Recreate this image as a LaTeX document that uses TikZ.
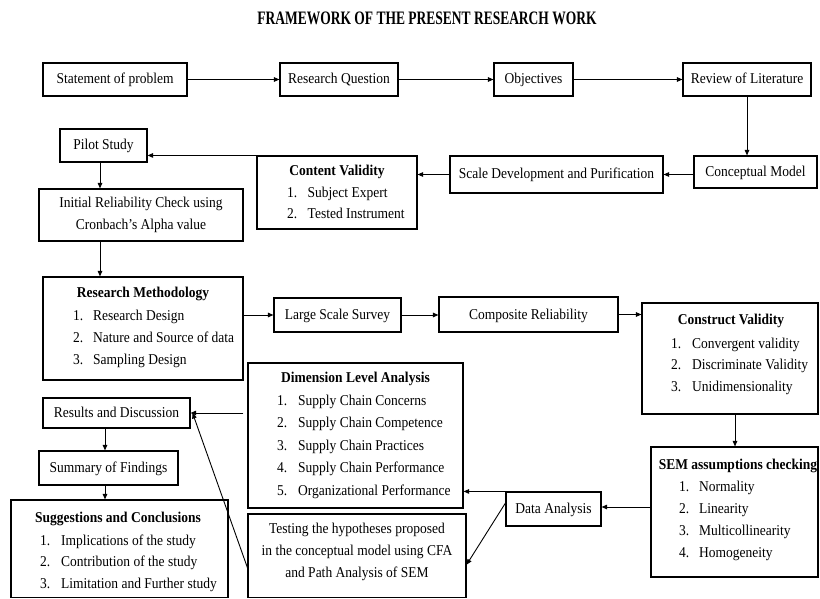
\documentclass[tikz,border=0pt]{standalone}
\usepackage{fontspec}
\setmainfont{Liberation Serif}[FakeStretch=0.9]
\newfontfamily\titlefont{Liberation Serif}[FakeStretch=0.71]
\usetikzlibrary{arrows.meta,calc}

% a framed box given by its corners (x1,y1) and (x2,y2)
\newcommand\framebx[6]{%
  \node[box, minimum width={#4-#2}, minimum height={#5-#3}] (#1)
    at ({(#2+#4)/2},{(#3+#5)/2}) {#6};}

\begin{document}
\begin{tikzpicture}[x=1pt,y=-1pt,
  box/.style={draw=black, line width=1.1pt, rectangle, inner sep=0pt,
    text height=11pt, text depth=2pt, font=\fontsize{15}{21.7}\selectfont},
  flow/.style={draw=black, line width=0.9pt,
    -{Triangle[length=5.5pt,width=4.5pt]}},
  txt/.style={inner sep=0pt, align=center, font=\fontsize{15}{21.7}\selectfont},
  head/.style={inner sep=0pt, text height=10pt, text depth=3pt,
    font=\bfseries\fontsize{15}{18}\selectfont},
  item/.style={inner sep=0pt, anchor=west, text height=10pt, text depth=3pt,
    font=\fontsize{15}{18}\selectfont},
  ttl/.style={inner sep=0pt, anchor=base, font=\titlefont\bfseries\fontsize{19}{22}\selectfont}
]
\useasboundingbox (0,0) rectangle (820,599);

\node[ttl] (title) at (427,25) {FRAMEWORK OF THE PRESENT RESEARCH WORK};

% top row
\framebx{stmt}{43}{63}{187}{96}{Statement of problem}
\framebx{rq}{280}{63}{398}{96}{Research Question}
\framebx{obj}{494}{63}{573}{96}{Objectives}
\framebx{rol}{683}{63}{811}{96}{Review of Literature}

% second row
\framebx{cm}{694}{156}{817}{188}{Conceptual Model}
\framebx{sdp}{450}{156}{663}{193}{Scale Development and Purification}
\framebx{cv}{257}{156}{417}{229}{}
\framebx{pilot}{60}{129}{147}{162}{Pilot Study}
\framebx{irc}{39}{189}{243}{241}{}
\node[txt] (irctxt) at (141,215) {Initial Reliability Check using\\Cronbach’s Alpha value};

% middle row
\framebx{rm}{43}{277}{243}{380}{}
\framebx{lss}{274}{298}{401}{332}{Large Scale Survey}
\framebx{cr}{439}{297}{618}{332}{Composite Reliability}
\framebx{conv}{642}{303}{818}{414}{}

% lower part
\framebx{sem}{651}{447}{818}{577}{}
\framebx{da}{506}{492}{601}{526}{Data Analysis}
\framebx{dla}{248}{363}{463}{508}{}
\framebx{test}{248}{514}{466}{597.5}{}
\framebx{rd}{43}{398}{190}{428}{Results and Discussion}
\framebx{sof}{39}{451}{178}{485}{Summary of Findings}
\framebx{sc}{11}{500}{228}{597.5}{}

% contents of the list boxes
\node[head] (cvh) at (337,172) {Content Validity};
\foreach \t [count=\i, evaluate=\i as \yy using 194+(\i-1)*21] in
  {Subject Expert, Tested Instrument}
  \node[item] (cv-\i) at (287,\yy) {\makebox[20.5pt][l]{\i.}\t};

\node[head] (rmh) at (143,294) {Research Methodology};
\foreach \t [count=\i, evaluate=\i as \yy using 316.5+(\i-1)*22] in
  {Research Design, Nature and Source of data, Sampling Design}
  \node[item] (rm-\i) at (73,\yy) {\makebox[20pt][l]{\i.}\t};

\node[head] (convh) at (731,321) {Construct Validity};
\foreach \t [count=\i, evaluate=\i as \yy using 344.5+(\i-1)*21.5] in
  {Convergent validity, Discriminate Validity, Unidimensionality}
  \node[item] (conv-\i) at (671,\yy) {\makebox[21pt][l]{\i.}\t};

\node[head] (semh) at (738,466) {SEM assumptions checking};
\foreach \t [count=\i, evaluate=\i as \yy using 487.5+(\i-1)*22.3] in
  {Normality, Linearity, Multicollinearity, Homogeneity}
  \node[item] (sem-\i) at (679,\yy) {\makebox[20pt][l]{\i.}\t};

\node[head] (dlah) at (355.5,379) {Dimension Level Analysis};
\foreach \t [count=\i, evaluate=\i as \yy using 401.5+(\i-1)*22.5] in
  {Supply Chain Concerns, Supply Chain Competence, Supply Chain Practices,
   Supply Chain Performance, Organizational Performance}
  \node[item] (dla-\i) at (277,\yy) {\makebox[21pt][l]{\i.}\t};

\node[txt] (testtxt) at (357,552) {Testing the hypotheses proposed\\
  in the conceptual model using CFA\\and Path Analysis of SEM};

\node[head] (sch) at (118,519) {Suggestions and Conclusions};
\foreach \t [count=\i, evaluate=\i as \yy using 541.5+(\i-1)*21.7] in
  {Implications of the study, Contribution of the study,
   Limitation and Further study}
  \node[item] (sc-\i) at (40,\yy) {\makebox[21pt][l]{\i.}\t};

% guide columns for vertical connectors
\coordinate (colA) at (100,0);
\coordinate (colB) at (735,0);
\coordinate (colC) at (105,0);

% connectors
\draw[flow] (stmt) -- (rq);
\draw[flow] (rq) -- (obj);
\draw[flow] (obj) -- (rol);
\draw[flow] (rol.south) -- (rol.south |- cm.north);
\draw[flow] (sdp.east -| cm.west) -- (sdp.east);
\draw[flow] (sdp.west) -- (sdp.west -| cv.east);
\draw[flow] (cv.north west) -- (cv.north west -| pilot.east);
\draw[flow] (colA |- pilot.south) -- (colA |- irc.north);
\draw[flow] (colA |- irc.south) -- (colA |- rm.north);
\draw[flow] (rm.east |- lss.west) -- (lss.west);
\draw[flow] (lss.east) -- (lss.east -| cr.west);
\draw[flow] (cr.east) -- (cr.east -| conv.west);
\draw[flow] (colB |- conv.south) -- (colB |- sem.north);
\draw[flow] ([yshift=2pt]sem.west |- da.east) -- ([yshift=2pt]da.east);
\draw[flow] (da.north west) -- (da.north west -| dla.east);
\draw[flow] ([yshift=6pt]da.west) -- ([yshift=-9pt]test.east);
\draw[flow] ([xshift=-4pt]dla.west |- rd.east) -- (rd.east);
\draw[flow] ([yshift=-12pt]test.west) -- ([xshift=2pt]rd.east);
\draw[flow] (colC |- rd.south) -- (colC |- sof.north);
\draw[flow] (colC |- sof.south) -- (colC |- sc.north);
\end{tikzpicture}
\end{document}
